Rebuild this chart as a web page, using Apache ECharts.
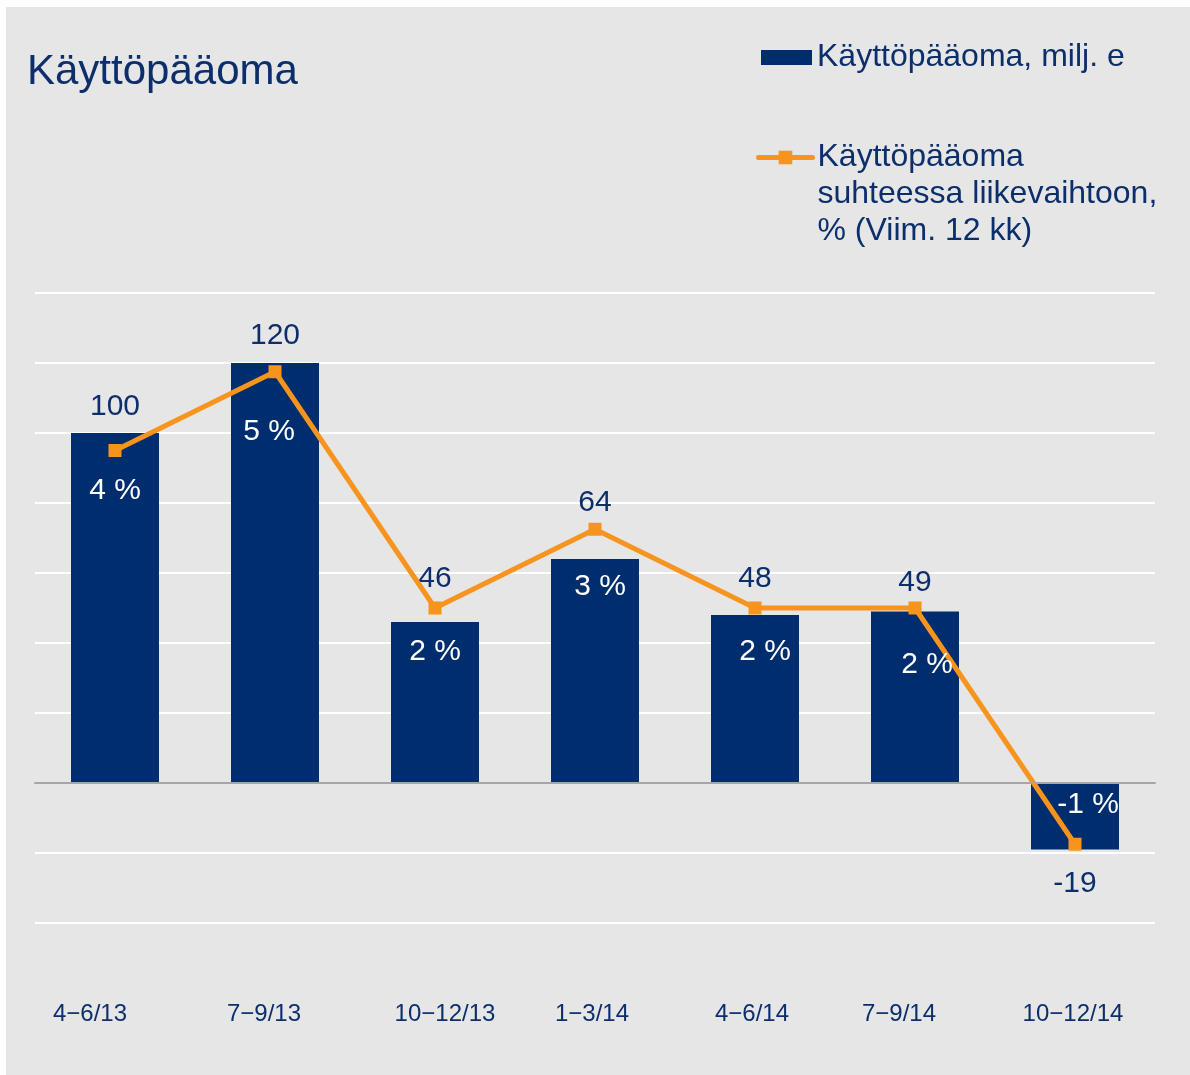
<!DOCTYPE html>
<html>
<head>
<meta charset="utf-8">
<script src="https://cdn.jsdelivr.net/npm/echarts@6/dist/echarts.min.js"></script>
<style>
  html, body { margin: 0; padding: 0; background: #ffffff; width: 1190px; height: 1075px; overflow: hidden; }
  #chart { position: absolute; left: 6px; top: 7px; width: 1184px; height: 1068px; background: #e6e6e6; }
</style>
</head>
<body>
<div id="chart"></div>
<script>
// ---- data ----
const categories = ['4\u22126/13', '7\u22129/13', '10\u221212/13', '1\u22123/14', '4\u22126/14', '7\u22129/14', '10\u221212/14'];
const capital = [100, 120, 46, 64, 48, 49, -19];          // Käyttöpääoma, milj. e
const ratio = [4, 5, 2, 3, 2, 2, -1];                     // % of net sales (last 12 months)
const barName = 'Käyttöpääoma, milj. e';
const lineName = 'Käyttöpääoma\nsuhteessa liikevaihtoon,\n% (Viim. 12 kk)';
const titleText = 'Käyttöpääoma';

// ---- styling (label placement) ----
const NAVY = '#002d6d';
const TEXT = '#0c2f6c';
const ORANGE = '#f7941d';
const FONT = '"Liberation Sans", Arial, sans-serif';
const barLabelDist = [11, 12, 28, 41, 21, 14, 19];
const pctLabelOffset = [[0, 40], [-6, 60], [0, 44], [5, 57], [10, 44], [12, 57], [13, -40]];
const xLabelShift = [-25, -11, 10, -3, -3, -16, -2];

const rich = {};
xLabelShift.forEach((s, i) => {
  rich['s' + i] = {
    fontSize: 24, color: TEXT, fontFamily: FONT,
    padding: s < 0 ? [0, -2 * s, 0, 0] : [0, 0, 0, 2 * s]
  };
});

const barData = capital.map((v, i) => ({
  value: v,
  label: { position: v < 0 ? 'bottom' : 'top', distance: barLabelDist[i] }
}));
const lineData = ratio.map((v, i) => ({
  value: v,
  label: { offset: pctLabelOffset[i] }
}));

const chart = echarts.init(document.getElementById('chart'), null, { renderer: 'canvas' });
chart.setOption({
  backgroundColor: '#e6e6e6',
  animation: false,
  textStyle: { fontFamily: FONT },
  title: {
    text: titleText, left: 21, top: 44, padding: 0,
    textStyle: { fontSize: 42, fontWeight: 'normal', color: TEXT, fontFamily: FONT }
  },
  legend: [
    {
      data: [barName], left: 755, top: 32, padding: 0,
      itemWidth: 51, itemHeight: 15, icon: 'rect',
      textStyle: { fontSize: 32, color: TEXT, fontFamily: FONT, lineHeight: 37 }
    },
    {
      data: [lineName], left: 750, top: 58, padding: 0,
      itemWidth: 54, itemHeight: 17,
      lineStyle: { width: 5, color: ORANGE, cap: 'round' },
      itemStyle: { color: ORANGE },
      formatter: name => '\n\n' + name,
      textStyle: { fontSize: 32, color: TEXT, fontFamily: FONT, lineHeight: 37 }
    }
  ],
  grid: { left: 29, right: 35, top: 286, bottom: 152, containLabel: false, outerBoundsMode: 'none' },
  xAxis: {
    type: 'category', data: categories,
    axisLine: { onZero: true, lineStyle: { color: '#a6a6a6', width: 2 } },
    axisTick: { show: false },
    axisLabel: {
      interval: 0, margin: 79, fontSize: 24, color: TEXT, fontFamily: FONT,
      formatter: (v, i) => '{s' + i + '|' + v + '}',
      rich: rich
    },
    z: 5
  },
  yAxis: [
    {
      type: 'value', min: -40, max: 140, interval: 20,
      axisLine: { show: false }, axisTick: { show: false }, axisLabel: { show: false },
      splitLine: { lineStyle: { color: '#ffffff', width: 2 } }
    },
    {
      type: 'value', min: -2, max: 6, interval: 1,
      axisLine: { show: false }, axisTick: { show: false }, axisLabel: { show: false },
      splitLine: { show: false }
    }
  ],
  series: [
    {
      name: barName, type: 'bar', data: barData, barWidth: 88,
      itemStyle: { color: NAVY },
      label: { show: true, fontSize: 30, color: TEXT, fontFamily: FONT }
    },
    {
      name: lineName, type: 'line', yAxisIndex: 1, data: lineData,
      symbol: 'rect', symbolSize: 13, z: 4,
      lineStyle: { color: ORANGE, width: 5 },
      itemStyle: { color: ORANGE },
      label: {
        show: true, position: 'inside', fontSize: 30, color: '#ffffff', fontFamily: FONT,
        formatter: p => p.value + ' %'
      }
    }
  ]
});
</script>
</body>
</html>
